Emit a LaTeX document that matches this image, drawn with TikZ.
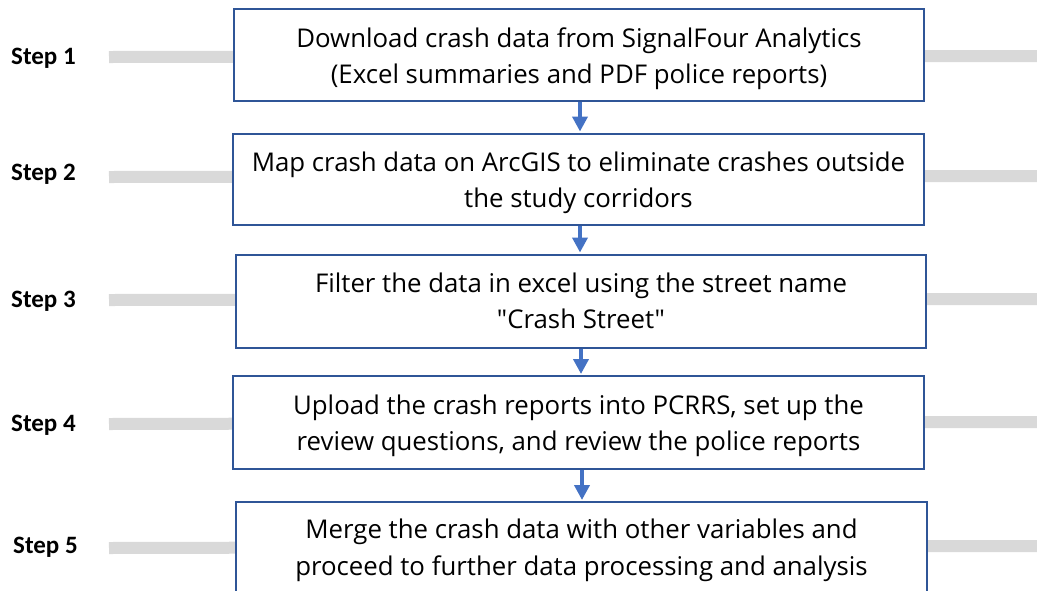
\documentclass[tikz,border=0pt]{standalone}
\usepackage{fontspec}
\setmainfont{Carlito}
\newfontfamily\boxfont{Open Sans}
\usetikzlibrary{arrows.meta}
\definecolor{boxline}{HTML}{2F5597}
\definecolor{flow}{HTML}{4472C4}
\definecolor{track}{HTML}{D9D9D9}
\tikzset{
  stepbox/.style={draw=boxline, line width=2pt, fill=white, inner sep=0pt},
  boxtext/.style={inner sep=0pt, align=center, anchor=base,
    font=\boxfont\fontsize{25.8}{36.5}\selectfont},
  steplabel/.style={anchor=base west, inner sep=0pt,
    font=\fontsize{25}{30}\selectfont\bfseries},
  trackbar/.style={draw=track, line width=12pt},
  flowarrow/.style={draw=flow, line width=4pt,
    -{Triangle[width=15pt,length=15pt]}, shorten >=1pt}
}
\begin{document}
\begin{tikzpicture}[x=1pt,y=-1pt]
\useasboundingbox (0,0) rectangle (1037,590);
\clip (0,0) rectangle (1037,590);
\fill[white] (0,0) rectangle (1037,590);

% grey tracks behind the boxes
\coordinate (t1l) at (109,57);  \coordinate (t1r) at (1037,56);
\coordinate (t2l) at (109,177); \coordinate (t2r) at (1037,176);
\coordinate (t3l) at (109,300); \coordinate (t3r) at (1037,299);
\coordinate (t4l) at (109,424); \coordinate (t4r) at (1037,422);
\coordinate (t5l) at (109,548); \coordinate (t5r) at (1037,546);
\foreach \i in {1,...,5} { \draw[trackbar] (t\i l) -- (t\i r); }

% process boxes
\node[stepbox, minimum width=690pt, minimum height=92pt] (b1) at (579,55) {};
\node[stepbox, minimum width=691pt, minimum height=91pt] (b2) at (578.5,179) {};
\node[stepbox, minimum width=690pt, minimum height=93pt] (b3) at (581,301) {};
\node[stepbox, minimum width=691pt, minimum height=93pt] (b4) at (578.5,422.5) {};
\node[stepbox, minimum width=691pt, minimum height=94pt] (b5) at (581.5,549) {};

% box texts, placed by the baseline of their last line
\node[boxtext] (x1) at (579,83.5)
  {Download crash data from SignalFour Analytics\\(Excel summaries and PDF police reports)};
\node[boxtext] (x2) at (578.5,207.5)
  {Map crash data on ArcGIS to eliminate crashes outside\\the study corridors};
\node[boxtext] (x3) at (581,328.5)
  {Filter the data in excel using the street name\\"Crash Street"};
\node[boxtext] (x4) at (578.5,450.5)
  {Upload the crash reports into PCRRS, set up the\\review questions, and review the police reports};
\node[boxtext] (x5) at (581.5,575)
  {Merge the crash data with other variables and\\proceed to further data processing and analysis};

% step labels
\node[steplabel] (s1) at (11,64)  {Step 1};
\node[steplabel] (s2) at (11,180) {Step 2};
\node[steplabel] (s3) at (11,307) {Step 3};
\node[steplabel] (s4) at (11,431) {Step 4};
\node[steplabel] (s5) at (13,553) {Step 5};

% flow arrows
\draw[flowarrow] ([xshift=1pt]b1.south) -- ([xshift=1pt]b1.south |- b2.north);
\draw[flowarrow] ([xshift=1.5pt]b2.south) -- ([xshift=1.5pt]b2.south |- b3.north);
\draw[flowarrow] ([xshift=0pt]b3.south) -- (b3.south |- b4.north);
\draw[flowarrow] ([xshift=3.5pt]b4.south) -- ([xshift=3.5pt]b4.south |- b5.north);
\end{tikzpicture}
\end{document}
